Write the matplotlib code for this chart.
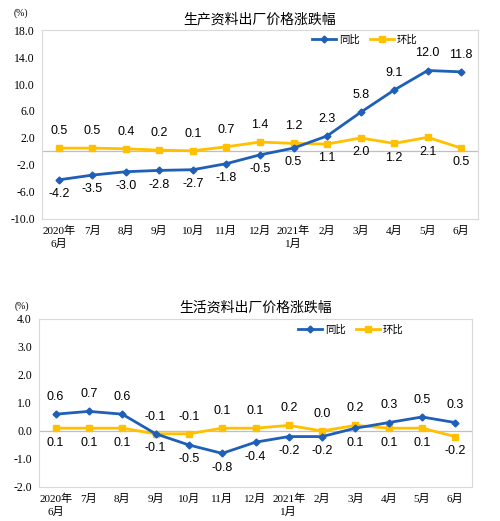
import matplotlib.pyplot as plt

months = ['2020年\n6月', '7月', '8月', '9月', '10月', '11月', '12月',
          '2021年\n1月', '2月', '3月', '4月', '5月', '6月']

# 生产资料
prod_yoy = [-4.2, -3.5, -3.0, -2.8, -2.7, -1.8, -0.5, 0.5, 2.3, 5.8, 9.1, 12.0, 11.8]
prod_mom = [0.5, 0.5, 0.4, 0.2, 0.1, 0.7, 1.4, 1.2, 1.1, 2.0, 1.2, 2.1, 0.5]

# 生活资料
life_yoy = [0.6, 0.7, 0.6, -0.1, -0.5, -0.8, -0.4, -0.2, -0.2, 0.1, 0.3, 0.5, 0.3]
life_mom = [0.1, 0.1, 0.1, -0.1, -0.1, 0.1, 0.1, 0.2, 0.0, 0.2, 0.1, 0.1, -0.2]

blue = '#1F5FB8'
yellow = '#FFC000'
cjk = ['Noto Sans CJK SC', 'DejaVu Sans']
serif = ['Liberation Serif', 'Noto Sans CJK SC']

fig = plt.figure(figsize=(5, 5.21), dpi=100)
ax1 = fig.add_axes([0.084, 0.5797, 0.872, 0.3627])
ax2 = fig.add_axes([0.078, 0.0653, 0.866, 0.3225])


def draw(ax, yoy, mom, title, ylim, yticks, legx):
    x = list(range(len(months)))
    ax.axhline(0, color='#bfbfbf', lw=0.9, zorder=1)
    ax.plot(x, yoy, color=blue, lw=2, marker='D', ms=3.5, label='同比', zorder=3)
    ax.plot(x, mom, color=yellow, lw=2, marker='s', ms=5, label='环比', zorder=2)
    for i in x:
        # higher one gets label above, lower below
        if yoy[i] > mom[i]:
            up, down = yoy[i], mom[i]
        else:
            up, down = mom[i], yoy[i]
        ax.annotate(f'{up:.1f}', (i, up), xytext=(0, 8), textcoords='offset points',
                    ha='center', va='bottom', fontsize=9, family='Liberation Sans')
        ax.annotate(f'{down:.1f}', (i, down), xytext=(0, -6), textcoords='offset points',
                    ha='center', va='top', fontsize=9, family='Liberation Sans')
    ax.set_xlim(-0.5, 12.5)
    ax.set_ylim(*ylim)
    ax.set_yticks(yticks)
    ax.set_yticklabels([f'{v:.1f}' for v in yticks], family=serif, fontsize=8.5)
    ax.set_xticks(x)
    ax.set_xticklabels(months, family=serif, fontsize=8, linespacing=1.3)
    ax.tick_params(length=0, pad=5)
    for s in ax.spines.values():
        s.set_color('#d9d9d9')
        s.set_linewidth(0.8)
    ax.set_title(title, family=cjk, fontsize=10, pad=5)
    ax.legend(loc='upper center', bbox_to_anchor=(legx, 1.025), ncol=2, frameon=False,
              prop={'family': cjk, 'size': 7.5}, handlelength=2.3, handletextpad=0.3,
              columnspacing=1.0)


draw(ax1, prod_yoy, prod_mom, '生产资料出厂价格涨跌幅', (-10, 18), [-10, -6, -2, 2, 6, 10, 14, 18], 0.74)
draw(ax2, life_yoy, life_mom, '生活资料出厂价格涨跌幅', (-2, 4), [-2, -1, 0, 1, 2, 3, 4], 0.72)

fig.text(0.028, 1 - 13 / 521, '(%)', fontsize=7, family=serif, va='center')
fig.text(0.03, 1 - 306 / 521, '(%)', fontsize=7, family=serif, va='center')

fig.savefig('out.png')
